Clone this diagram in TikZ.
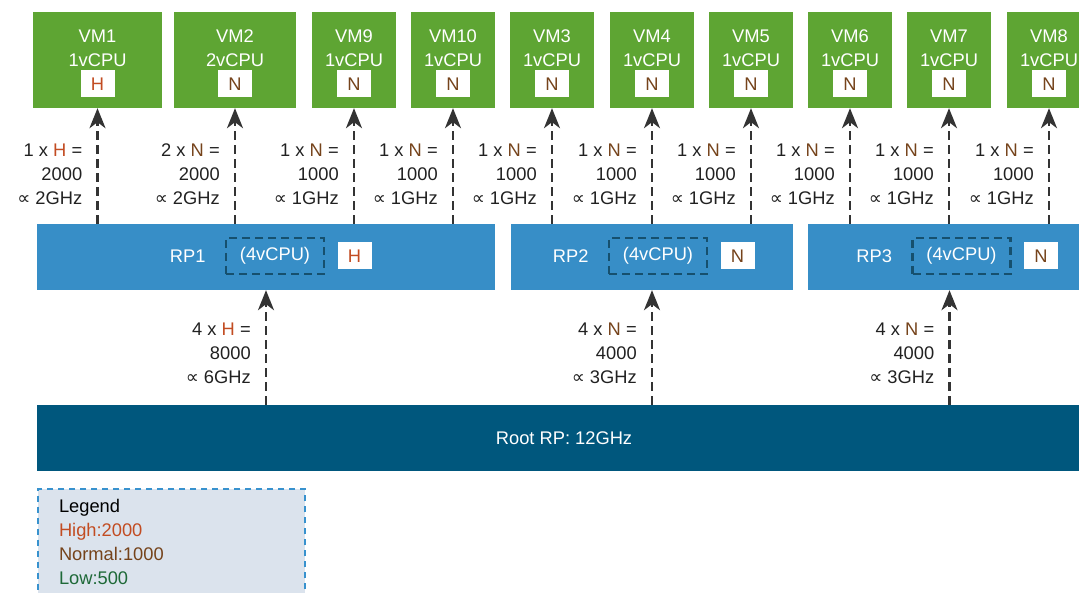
\documentclass[tikz,border=0pt]{standalone}
\usepackage{fontspec}
\setmainfont{Liberation Sans}
\newfontfamily\symfont{DejaVu Sans}
\usetikzlibrary{positioning,arrows.meta}

\definecolor{vmgreen}{RGB}{94,165,51}
\definecolor{rpblue}{RGB}{55,142,199}
\definecolor{rootblue}{RGB}{0,87,125}
\definecolor{hcol}{RGB}{194,76,34}
\definecolor{ncol}{RGB}{117,67,27}
\definecolor{lowgreen}{RGB}{30,105,56}
\definecolor{legfill}{RGB}{219,227,237}
\definecolor{legline}{RGB}{56,146,206}
\definecolor{cpuline}{RGB}{22,80,110}
\definecolor{arrowgray}{RGB}{51,51,51}
\definecolor{labelgray}{RGB}{33,33,33}

\newcommand{\prop}{{\symfont ∝}}

\begin{document}
\begin{tikzpicture}[x=1pt,y=-1pt,font=\fontsize{18.3}{24}\selectfont]
			
			\tikzset{
				vm/.style={
					fill=vmgreen,
					text=white,
					minimum width=84pt,
					minimum height=96pt,
					align=center,
					inner sep=0pt
				},
				rp/.style={
					fill=rpblue,
					minimum height=66pt,
					inner sep=0pt
				},
				root/.style={
					fill=rootblue,
					text=white,
					minimum width=1054pt,
					minimum height=66pt,
					inner sep=0pt
				},
				badge/.style={
					fill=white,
					minimum width=34pt,
					minimum height=27pt,
					inner sep=0pt
				},
				cpubox/.style={
					draw=cpuline,
					line width=2.6pt,
					dash pattern=on 8pt off 5pt,
					text=white,
					minimum width=98pt,
					minimum height=36pt,
					inner sep=0pt
				},
				rplabel/.style={
					text=white,
					inner sep=0pt
				},
				flow/.style={
					draw=arrowgray,
					line width=2.6pt,
					dash pattern=on 9pt off 5pt,
					-{Stealth[length=20pt,width=16pt,inset=6pt]}
				},
				share/.style={
					anchor=east,
					align=right,
					inner sep=0pt,
					xshift=-14pt,
					text=labelgray
				},
				legend/.style={
					anchor=north west,
					fill=legfill,
					draw=legline,
					line width=2pt,
					dash pattern=on 6pt off 5pt,
					align=left,
					text width=225pt,
					inner xsep=21pt,
					inner ysep=10.5pt
				}
			}
			
			\useasboundingbox (0,0) rectangle (1079,593);
			\clip (0,0) rectangle (1079,593);
			
			% VMS
			\node[vm, minimum width=129pt] (vm1) at (97.5,60) {VM1\\1vCPU\\\phantom{H}};
			\node[vm, minimum width=122pt] (vm2) at (235,60) {VM2\\2vCPU\\\phantom{H}};
			\node[vm] (vm9) at (354,60) {VM9\\1vCPU\\\phantom{H}};
			\node[vm] (vm10) at (453,60) {VM10\\1vCPU\\\phantom{H}};
			\node[vm] (vm3) at (552,60) {VM3\\1vCPU\\\phantom{H}};
			\node[vm] (vm4) at (652,60) {VM4\\1vCPU\\\phantom{H}};
			\node[vm] (vm5) at (751,60) {VM5\\1vCPU\\\phantom{H}};
			\node[vm] (vm6) at (850,60) {VM6\\1vCPU\\\phantom{H}};
			\node[vm] (vm7) at (949,60) {VM7\\1vCPU\\\phantom{H}};
			\node[vm] (vm8) at (1049,60) {VM8\\1vCPU\\\phantom{H}};
			
			% VM SHARES
			\node[badge, text=hcol] (vm1b) at ([yshift=-24pt]vm1.center) {H};
			\node[badge, text=ncol] (vm2b) at ([yshift=-24pt]vm2.center) {N};
			\node[badge, text=ncol] (vm9b) at ([yshift=-24pt]vm9.center) {N};
			\node[badge, text=ncol] (vm10b) at ([yshift=-24pt]vm10.center) {N};
			\node[badge, text=ncol] (vm3b) at ([yshift=-24pt]vm3.center) {N};
			\node[badge, text=ncol] (vm4b) at ([yshift=-24pt]vm4.center) {N};
			\node[badge, text=ncol] (vm5b) at ([yshift=-24pt]vm5.center) {N};
			\node[badge, text=ncol] (vm6b) at ([yshift=-24pt]vm6.center) {N};
			\node[badge, text=ncol] (vm7b) at ([yshift=-24pt]vm7.center) {N};
			\node[badge, text=ncol] (vm8b) at ([yshift=-24pt]vm8.center) {N};
			
			% RESOURCE POOLS
			\node[rp, minimum width=458pt] (rp1) at (266,257) {};
			\node[rp, minimum width=282pt] (rp2) at (652,257) {};
			\node[rp, minimum width=283pt] (rp3) at (949.5,257) {};
			
			\node[cpubox] (cpu1) at (275,256) {(4vCPU)};
			\node[rplabel, left=19pt of cpu1] (rp1l) {RP1};
			\node[badge, text=hcol, right=12pt of cpu1] (rp1b) {H};
			
			\node[cpubox] (cpu2) at (658,256) {(4vCPU)};
			\node[rplabel, left=19pt of cpu2] (rp2l) {RP2};
			\node[badge, text=ncol, right=12pt of cpu2] (rp2b) {N};
			
			\node[cpubox] (cpu3) at (961.5,256) {(4vCPU)};
			\node[rplabel, left=19pt of cpu3] (rp3l) {RP3};
			\node[badge, text=ncol, right=12pt of cpu3] (rp3b) {N};
			
			% ROOT
			\node[root] (root) at (564,438) {Root RP: 12GHz};
			
			% RP TO VMS
			\draw[flow] (vm1.south |- rp1.north) -- node[share, pos=0.43] {1 x \textcolor{hcol}{H} =\\2000\\\prop{} 2GHz} (vm1.south);
			\draw[flow] (vm2.south |- rp1.north) -- node[share, pos=0.43] {2 x \textcolor{ncol}{N} =\\2000\\\prop{} 2GHz} (vm2.south);
			\draw[flow] (vm9.south |- rp1.north) -- node[share, pos=0.43] {1 x \textcolor{ncol}{N} =\\1000\\\prop{} 1GHz} (vm9.south);
			\draw[flow] (vm10.south |- rp1.north) -- node[share, pos=0.43] {1 x \textcolor{ncol}{N} =\\1000\\\prop{} 1GHz} (vm10.south);
			\draw[flow] (vm3.south |- rp2.north) -- node[share, pos=0.43] {1 x \textcolor{ncol}{N} =\\1000\\\prop{} 1GHz} (vm3.south);
			\draw[flow] (vm4.south |- rp2.north) -- node[share, pos=0.43] {1 x \textcolor{ncol}{N} =\\1000\\\prop{} 1GHz} (vm4.south);
			\draw[flow] (vm5.south |- rp2.north) -- node[share, pos=0.43] {1 x \textcolor{ncol}{N} =\\1000\\\prop{} 1GHz} (vm5.south);
			\draw[flow] (vm6.south |- rp3.north) -- node[share, pos=0.43] {1 x \textcolor{ncol}{N} =\\1000\\\prop{} 1GHz} (vm6.south);
			\draw[flow] (vm7.south |- rp3.north) -- node[share, pos=0.43] {1 x \textcolor{ncol}{N} =\\1000\\\prop{} 1GHz} (vm7.south);
			\draw[flow] (vm8.south |- rp3.north) -- node[share, pos=0.43] {1 x \textcolor{ncol}{N} =\\1000\\\prop{} 1GHz} (vm8.south);
			
			% ROOT TO RPS
			\draw[flow] (rp1.south |- root.north) -- node[share, pos=0.45] {4 x \textcolor{hcol}{H} =\\8000\\\prop{} 6GHz} (rp1.south);
			\draw[flow] (rp2.south |- root.north) -- node[share, pos=0.45] {4 x \textcolor{ncol}{N} =\\4000\\\prop{} 3GHz} (rp2.south);
			\draw[flow] (rp3.south |- root.north) -- node[share, pos=0.45] {4 x \textcolor{ncol}{N} =\\4000\\\prop{} 3GHz} (rp3.south);
			
			% LEGEND
			\node[legend] (legend) at (37,488) {Legend\\\textcolor{hcol}{High:2000}\\\textcolor{ncol}{Normal:1000}\\\textcolor{lowgreen}{Low:500}\\\mbox{}};
			
		\end{tikzpicture}
\end{document}
